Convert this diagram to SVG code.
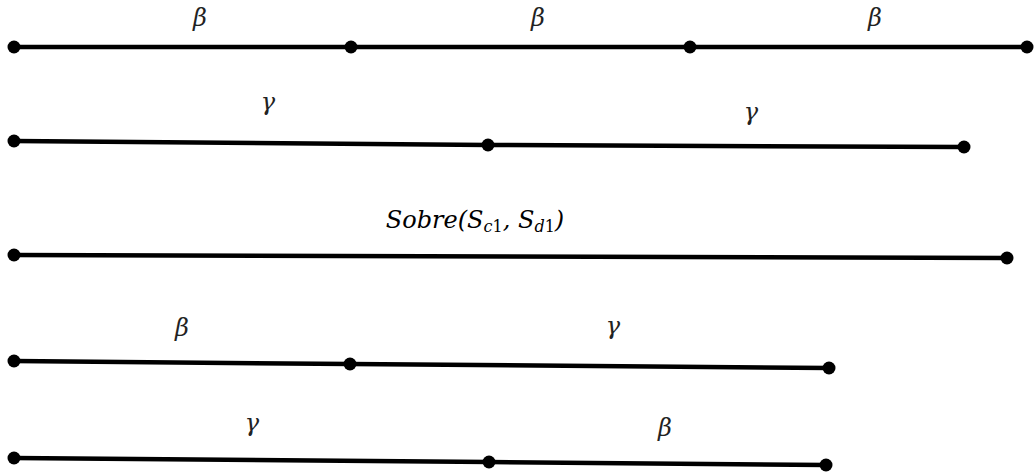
<svg xmlns="http://www.w3.org/2000/svg" width="1034" height="475" viewBox="0 0 1034 475">
<style>
.seg{stroke:#000;stroke-width:4.5;stroke-linecap:round;fill:none}
.dot{fill:#000}
.lbl{font-family:"DejaVu Serif","Liberation Serif",serif;font-style:italic;font-size:24px;fill:#222;text-anchor:middle}
.math{font-family:"DejaVu Serif","Liberation Serif",serif;font-style:italic;font-size:24px;fill:#000;text-anchor:middle}
.up{font-style:normal}
</style>
<rect width="1034" height="475" fill="#fff"/>
<g id="connectors">
<line class="seg" x1="14" y1="47" x2="351" y2="47"/>
<line class="seg" x1="351" y1="47" x2="690" y2="47"/>
<line class="seg" x1="690" y1="47" x2="1027" y2="47"/>
<line class="seg" x1="14" y1="141" x2="488" y2="145"/>
<line class="seg" x1="488" y1="145" x2="964" y2="147"/>
<line class="seg" x1="14" y1="255" x2="1007" y2="258"/>
<line class="seg" x1="14" y1="361" x2="350" y2="364"/>
<line class="seg" x1="350" y1="364" x2="829" y2="368"/>
<line class="seg" x1="14" y1="458" x2="489" y2="462"/>
<line class="seg" x1="489" y1="462" x2="826" y2="465"/>
</g>
<g id="row1">
<circle class="dot" cx="14" cy="47" r="6.5"/>
<circle class="dot" cx="351" cy="47" r="6.5"/>
<circle class="dot" cx="690" cy="47" r="6.5"/>
<circle class="dot" cx="1027" cy="47" r="6.5"/>
<text class="lbl" x="200" y="26">β</text>
<text class="lbl" x="538" y="26">β</text>
<text class="lbl" x="875" y="26">β</text>
</g>
<g id="row2">
<circle class="dot" cx="14" cy="141" r="6.5"/>
<circle class="dot" cx="488" cy="145" r="6.5"/>
<circle class="dot" cx="964" cy="147" r="6.5"/>
<text class="lbl" x="268" y="110">γ</text>
<text class="lbl" x="751" y="120">γ</text>
</g>
<g id="row3">
<circle class="dot" cx="14" cy="255" r="6.5"/>
<circle class="dot" cx="1007" cy="258" r="6.5"/>
<text class="math" x="475" y="228">Sobre(S<tspan font-size="16" dy="4">c</tspan><tspan class="up" font-size="16">1</tspan><tspan dy="-4">, S</tspan><tspan font-size="16" dy="4">d</tspan><tspan class="up" font-size="16">1</tspan><tspan dy="-4">)</tspan></text>
</g>
<g id="row4">
<circle class="dot" cx="14" cy="361" r="6.5"/>
<circle class="dot" cx="350" cy="364" r="6.5"/>
<circle class="dot" cx="829" cy="368" r="6.5"/>
<text class="lbl" x="182" y="336">β</text>
<text class="lbl" x="613" y="334">γ</text>
</g>
<g id="row5">
<circle class="dot" cx="14" cy="458" r="6.5"/>
<circle class="dot" cx="489" cy="462" r="6.5"/>
<circle class="dot" cx="826" cy="465" r="6.5"/>
<text class="lbl" x="252" y="431">γ</text>
<text class="lbl" x="665" y="436">β</text>
</g>
</svg>
